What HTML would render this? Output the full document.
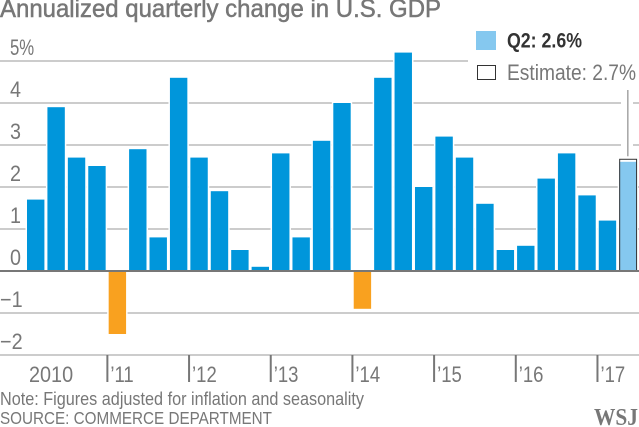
<!DOCTYPE html>
<html>
<head>
<meta charset="utf-8">
<title>Annualized quarterly change in U.S. GDP</title>
<style>
html,body{margin:0;padding:0;background:#fff;width:639px;height:427px;overflow:hidden}
svg{display:block}
text{font-family:"Liberation Sans",sans-serif;fill:#777}
</style>
</head>
<body>
<svg id="chart" width="639" height="427" viewBox="0 0 639 427" xmlns="http://www.w3.org/2000/svg">
  <text x="0" y="17" font-size="25" font-weight="400" stroke="#777" stroke-width="0.5" textLength="441" lengthAdjust="spacingAndGlyphs">Annualized quarterly change in U.S. GDP</text>
  <g id="grid"></g>
  <rect x="468" y="25" width="171" height="60" fill="#fff"></rect>
  <rect x="621" y="85" width="12" height="74" fill="#fff"></rect>
  <g id="bars"></g>
  <g id="axis"></g>
  <g>
    <rect x="476" y="31" width="20" height="19" fill="#85c8ef"></rect>
    <text x="507" y="47.5" font-size="21" font-weight="700" style="fill:#333" textLength="75" lengthAdjust="spacingAndGlyphs">Q2: 2.6%</text>
    <rect x="477.5" y="65.5" width="18" height="14" fill="#fff" stroke="#333" stroke-width="1"></rect>
    <text x="507" y="80" font-size="22" textLength="129" lengthAdjust="spacingAndGlyphs">Estimate: 2.7%</text>
  </g>
  <text x="0" y="405" font-size="18" textLength="364" lengthAdjust="spacingAndGlyphs">Note: Figures adjusted for inflation and seasonality</text>
  <text x="0" y="424" font-size="17.5" textLength="272" lengthAdjust="spacingAndGlyphs">SOURCE: COMMERCE DEPARTMENT</text>
  <text x="594" y="425" font-size="24" font-weight="700" style="font-family:'Liberation Serif',serif" textLength="44" lengthAdjust="spacingAndGlyphs">WSJ</text>
</svg>
<script>
var quarters = ['2010Q1','2010Q2','2010Q3','2010Q4','2011Q1','2011Q2','2011Q3','2011Q4','2012Q1','2012Q2','2012Q3','2012Q4','2013Q1','2013Q2','2013Q3','2013Q4','2014Q1','2014Q2','2014Q3','2014Q4','2015Q1','2015Q2','2015Q3','2015Q4','2016Q1','2016Q2','2016Q3','2016Q4','2017Q1','2017Q2'];
var gdpChange = [1.7,3.9,2.7,2.5,-1.5,2.9,0.8,4.6,2.7,1.9,0.5,0.1,2.8,0.8,3.1,4.0,-0.9,4.6,5.2,2.0,3.2,2.7,1.6,0.5,0.6,2.2,2.8,1.8,1.2,2.6];
var estimateQ2 = 2.66;
var yTicks = [5,4,3,2,1,0,-1,-2];
var yearLabels = ['2010',"\u201911","\u201912","\u201913","\u201914","\u201915","\u201916","\u201917"];

var NS = 'http://www.w3.org/2000/svg';
function yScale(v){ return 271 - v * 42; }
function xScale(i){ return 27 + i * 20.42; }
var barW = 17.4;
function make(tag, parent, attrs){
  var el = document.createElementNS(NS, tag);
  for (var k in attrs) el.setAttribute(k, attrs[k]);
  parent.appendChild(el);
  return el;
}
function condense(t, f){
  t.setAttribute('textLength', (t.getComputedTextLength() * f).toFixed(1));
  t.setAttribute('lengthAdjust', 'spacingAndGlyphs');
}
var gridG = document.getElementById('grid');
var barsG = document.getElementById('bars');
var axisG = document.getElementById('axis');

yTicks.forEach(function(v){
  if (v !== 0) {
    var g = make('line', gridG, {x1:0, x2:639, y1:yScale(v), y2:yScale(v), stroke:'#bbb', 'stroke-width':1.5});
    
    
  }
  var t = make('text', axisG, {x: v < 0 ? 0 : 10, y: yScale(v) - 6, 'font-size': 22});
  t.textContent = v === 5 ? '5%' : (v < 0 ? '\u2212' + (-v) : String(v));
  
  
  condense(t, v === 5 ? 0.76 : 0.9);
});

gdpChange.forEach(function(v, i){
  var last = i === gdpChange.length - 1;
  var y0 = yScale(Math.max(v, 0));
  var y1 = yScale(Math.min(v, 0));
  var x = xScale(i);
  var top = last ? yScale(Math.max(estimateQ2, v)) : y0;
  var halo = make('rect', barsG, {x:x-1.5, y:top-1.5, width:barW+3, height:y1-top+3, fill:'#fff'});
  
  
  var r = make('rect', barsG, {x:x, y:y0, width:barW, height:y1-y0, fill: last ? '#85c8ef' : (v < 0 ? '#f9a11f' : '#0096db')});
  
  
});

var estX = xScale(gdpChange.length - 1);
var est = make('rect', barsG, {x:estX + 0.5, y:yScale(estimateQ2), width:barW - 0.5, height:yScale(0) - yScale(estimateQ2), fill:'none', stroke:'#333', 'stroke-width':1});


var leader = make('line', barsG, {x1:estX + barW/2, x2:estX + barW/2, y1:90, y2:yScale(estimateQ2) - 3, stroke:'#777', 'stroke-width':1});



var base = make('line', axisG, {x1:0, x2:639, y1:yScale(0), y2:yScale(0), stroke:'#777', 'stroke-width':2});



yearLabels.forEach(function(lab, k){
  var tx = xScale(k * 4) - 1.3;
  if (k > 0) {
    var tk = make('line', axisG, {x1:tx, x2:tx, y1:355, y2:382, stroke:'#777', 'stroke-width':2});
    
    
  }
  var t = make('text', axisG, {x: k === 0 ? 29 : tx + 3, y: 382, 'font-size': 22});
  t.textContent = lab;
  
  
  condense(t, k === 0 ? 0.9 : 0.84);
});
</script>
</body>
</html>
